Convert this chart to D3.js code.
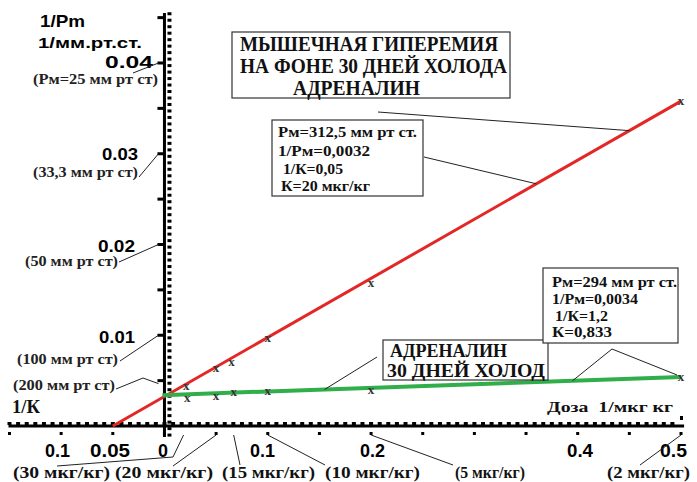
<!DOCTYPE html>
<html>
<head>
<meta charset="utf-8">
<script src="https://cdn.jsdelivr.net/npm/d3@7"></script>
<style>
  body { margin: 0; background: #fff; }
  svg { display: block; }
</style>
</head>
<body>
<svg id="chart" width="697" height="482"></svg>
<script>
// data
const redX = [0.021, 0.05, 0.065, 0.1, 0.2, 0.5];
const redY = [0.0044, 0.0064, 0.0070, 0.0097, 0.0158, 0.0358];
const greenX = [0.022, 0.05, 0.067, 0.1, 0.2, 0.5];
const greenY = [0.0031, 0.0033, 0.0037, 0.0039, 0.0040, 0.0054];
const redLineX = [-0.05, 0.5];
const redLineY = [0, 0.0358];
const greenLineX = [-0.002, 0.5];
const greenLineY = [0.0034, 0.0054];

const yTickVals = [0.01, 0.02, 0.03, 0.04];
const yTickLabels = ['0.01', '0.02', '0.03', '0.04'];
const pmVals = [0.005, 0.01, 0.02, 0.03, 0.04];
const pmLabels = ['(200 мм рт ст)', '(100 мм рт ст)', '(50 мм рт ст)', '(33,3 мм рт ст)', '(Pм=25 мм рт ст)'];
const xTickVals = [-0.1, -0.05, 0, 0.1, 0.2, 0.4, 0.5];
const xTickLabels = ['0.1', '0.05', '0', '0.1', '0.2', '0.4', '0.5'];
const doseVals = [0.0185, 0.05, 0.067, 0.1, 0.2, 0.5];
const doseLabels = ['(30 мкг/кг)', '(20 мкг/кг)', '(15 мкг/кг)', '(10 мкг/кг)', '(5 мкг/кг)', '(2 мкг/кг)'];

const titleLines = ['МЫШЕЧНАЯ ГИПЕРЕМИЯ', 'НА ФОНЕ 30 ДНЕЙ ХОЛОДА', 'АДРЕНАЛИН'];
const redInfo = ['Pм=312,5 мм рт ст.', '1/Pм=0,0032', '1/К=0,05', 'К=20 мкг/кг'];
const greenInfo = ['Pм=294 мм рт ст.', '1/Pм=0,0034', '1/К=1,2', 'К=0,833'];
const greenName = ['АДРЕНАЛИН', '30 ДНЕЙ ХОЛОД'];

const SERIF = '"Liberation Serif", "Times New Roman", serif';
const SANS = '"Liberation Sans", Arial, sans-serif';

const svg = d3.select('#chart');
const x = d3.scaleLinear().domain([-0.15, 0.5]).range([9.5, 681]);
const y = d3.scaleLinear().domain([0, 0.04]).range([426, 63]);
const x0 = x(0), y0 = y(0);
const redAt = d3.scaleLinear().domain(redLineX).range(redLineY);
const greenAt = d3.scaleLinear().domain(greenLineX).range(greenLineY);

// text helper: w = width the label takes in the picture
function txt(tx, ty, s, font, size, w, color) {
  const t = svg.append('text').attr('x', tx).attr('y', ty)
    .style('font-family', font).style('font-weight', 'bold').style('font-size', size + 'px')
    .attr('fill', color || '#111').text(s);
  if (w) t.attr('textLength', w).attr('lengthAdjust', 'spacingAndGlyphs');
  return t;
}
function lead(ptsPx) {
  svg.append('path').attr('d', d3.line()(ptsPx)).attr('fill', 'none').attr('stroke', '#222').attr('stroke-width', 1);
}

// axes
svg.append('line').attr('x1', x(-0.15) - 1).attr('x2', x(0.503)).attr('y1', y0).attr('y2', y0)
  .attr('stroke', '#000').attr('stroke-width', 3);
svg.append('line').attr('x1', x0).attr('x2', x0).attr('y1', y(-0.0012)).attr('y2', y(0.0455))
  .attr('stroke', '#000').attr('stroke-width', 3);

// x minor dashes above, major dots below
svg.selectAll('.xm').data(d3.range(-0.15, 0.5, 0.05 / 6)).enter().append('rect')
  .attr('x', d => x(d) - 2).attr('y', y0 - 4).attr('width', 4).attr('height', 3).attr('fill', '#000');
svg.selectAll('.xd').data(d3.range(-0.15, 0.51, 0.05)).enter().append('rect')
  .attr('x', d => x(d) - 1.5).attr('y', y0 + 6).attr('width', 3).attr('height', 3).attr('fill', '#000');
svg.append('rect').attr('x', x(0.5) - 1).attr('y', y0 - 10).attr('width', 3).attr('height', 4).attr('fill', '#000');

// y minor dashes right, major ticks left
svg.selectAll('.ym').data(d3.range(-0.001, 0.0455, 0.005 / 7)).enter().append('rect')
  .attr('x', x0 + 3).attr('y', d => y(d) - 1.5).attr('width', 4).attr('height', 3).attr('fill', '#000');
svg.selectAll('.yt').data(d3.range(0.005, 0.0451, 0.005)).enter().append('rect')
  .attr('x', x0 - 7).attr('y', d => y(d) - 1.5).attr('width', 7).attr('height', 3).attr('fill', '#000');

// y tick labels
const yLabLeft = [99, 98, 102, 105], yLabW = [36, 37, 36, 48], yLabDy = [8, 7.5, 6, 5];
yTickVals.forEach((v, i) => txt(yLabLeft[i], y(v) + yLabDy[i], yTickLabels[i], SANS, 17, yLabW[i], '#000'));

// 1/Pm in mm Hg, with leaders to the axis
const pmLeft = [13, 17, 25, 33, 33], pmW = [102, 101, 93, 105, 125], pmBase = [390, 364, 266, 177, 84];
pmVals.forEach((v, i) => txt(pmLeft[i], pmBase[i], pmLabels[i], SERIF, 14, pmW[i], '#222'));
const pmLead = [[116, 389, 143, 378], [120, 361], [119, 262], [139, 177], [133, 73]];
pmVals.forEach((v, i) => {
  const p = pmLead[i];
  const pts = [[p[0], p[1]]];
  if (p.length > 2) pts.push([p[2], p[3]]);
  pts.push([x0 - 6, y(v) + (i === 0 ? 3 : 0)]);
  lead(pts);
});

// x tick labels
const xLabLeft = [45, 90, 158, 250, 360, 567, 660], xLabW = [25, 40, 10, 25, 25, 26, 27];
xTickVals.forEach((v, i) => txt(xLabLeft[i], 457, xTickLabels[i], SANS, 18, xLabW[i], '#000'));

// doses under the x axis
const doseLeft = [13, 115, 222, 325, 455, 607], doseW = [97, 98, 93, 95, 70, 83];
doseVals.forEach((v, i) => txt(doseLeft[i], 478, doseLabels[i], SERIF, 16, doseW[i]));
const doseLead = [[[57, 466], [173, 457]], [[173, 466]], [[240, 465]], [[325, 465]], [[453, 465]], [[640, 465]]];
doseVals.forEach((v, i) => lead(doseLead[i].concat([[x(v), y0 + 9]])));

// axis titles
txt(40, 27, '1/Pm', SANS, 17, 45, '#000');
txt(38, 48, '1/мм.рт.ст.', SANS, 15, 104, '#000');
txt(12, 413, '1/К', SERIF, 18, 28);
txt(547, 412, 'Доза  1/мкг кг', SERIF, 15, 126).attr('xml:space', 'preserve');

// lines
const line = d3.line().x(d => x(d[0])).y(d => y(d[1]));
svg.append('path').attr('d', line(d3.zip(redLineX, redLineY)))
  .attr('stroke', '#e32626').attr('stroke-width', 3).attr('fill', 'none');
svg.append('path').attr('d', line(d3.zip(greenLineX, greenLineY)))
  .attr('stroke', '#2fae4a').attr('stroke-width', 4).attr('fill', 'none');

// x markers
const pts = d3.zip(redX, redY).concat(d3.zip(greenX, greenY));
svg.selectAll('.mk').data(pts).enter().append('text')
  .attr('x', d => x(d[0])).attr('y', d => y(d[1]) + 4).attr('text-anchor', 'middle')
  .style('font-family', SERIF).style('font-weight', 'bold').style('font-size', '13px')
  .attr('fill', '#333').text('x');

// annotation boxes
function box(bx, by, bw, bh) {
  svg.append('rect').attr('x', bx).attr('y', by).attr('width', bw).attr('height', bh)
    .attr('fill', '#fff').attr('stroke', '#333').attr('stroke-width', 1.2);
}

box(232, 32, 278, 66);
const tLeft = [240, 240, 293], tW = [258, 267, 127], tBase = [51, 73, 95];
titleLines.forEach((s, i) => txt(tLeft[i], tBase[i], s, SERIF, 20, tW[i]));
lead([[378, 112], [x(0.45), y(redAt(0.45))]]);

box(272, 120, 151, 76);
const rLeft = [278, 278, 283, 281], rW = [139, 92, 60, 89], rBase = [137, 156, 174, 191];
redInfo.forEach((s, i) => txt(rLeft[i], rBase[i], s, SERIF, 15, rW[i]));
lead([[424, 157], [x(0.36), y(redAt(0.36))]]);

box(383, 340, 165, 40);
const gnLeft = [390, 387], gnW = [117, 158], gnBase = [357, 377];
greenName.forEach((s, i) => txt(gnLeft[i], gnBase[i], s, SERIF, 19, gnW[i]));
lead([[377, 357], [x(0.155), y(greenAt(0.155))]]);

box(543, 268, 135, 75);
const gLeft = [552, 552, 555, 552], gW = [125, 86, 53, 60], gBase = [287, 304, 321, 337];
greenInfo.forEach((s, i) => txt(gLeft[i], gBase[i], s, SERIF, 15, gW[i]));
lead([[x(0.395), y(greenAt(0.395))], [612, 349], [x(0.5) - 4, y(0.0054) - 2]]);
</script>
</body>
</html>
